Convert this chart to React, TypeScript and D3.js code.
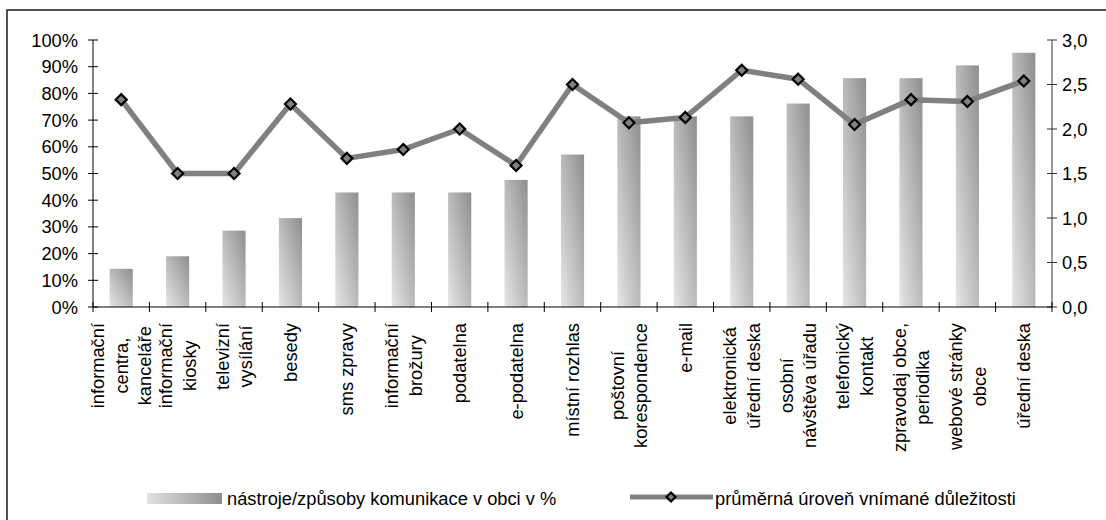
import * as d3 from "d3";

const categories: string[][] = [
  ["informační", "centra,", "kanceláře"],
  ["informační", "kiosky"],
  ["televizní", "vysílání"],
  ["besedy"],
  ["sms zpravy"],
  ["informační", "brožury"],
  ["podatelna"],
  ["e-podatelna"],
  ["místní rozhlas"],
  ["poštovní", "korespondence"],
  ["e-mail"],
  ["elektronická", "úřední deska"],
  ["osobní", "návštěva úřadu"],
  ["telefonický", "kontakt"],
  ["zpravodaj obce,", "periodika"],
  ["webové stránky", "obce"],
  ["úřední deska"],
];

// share of municipalities using the tool (0..1)
const usage = [
  0.143, 0.19, 0.286, 0.333, 0.429, 0.429, 0.429, 0.476, 0.571, 0.714, 0.714,
  0.714, 0.762, 0.857, 0.857, 0.905, 0.952,
];

// average perceived importance (0..3)
const importance = [
  2.33, 1.5, 1.5, 2.28, 1.67, 1.77, 2.0, 1.59, 2.5, 2.07, 2.13, 2.66, 2.56,
  2.05, 2.33, 2.31, 2.54,
];

const leftTicks = [0, 0.1, 0.2, 0.3, 0.4, 0.5, 0.6, 0.7, 0.8, 0.9, 1];
const rightTicks = [0, 0.5, 1, 1.5, 2, 2.5, 3];

const legendBars = "nástroje/způsoby komunikace v obci v %";
const legendLine = "průměrná úroveň vnímané důležitosti";

const FONT = "'Liberation Sans', Arial, sans-serif";
const FS = 18.3;

const W = 1106;
const H = 520;
const left = 93;
const right = 1052;
const top = 40;
const bottom = 307;

function measure(text: string) {
  const ctx = document.createElement("canvas").getContext("2d");
  if (!ctx) return text.length * FS * 0.5;
  ctx.font = `${FS}px ${FONT}`;
  return ctx.measureText(text).width;
}

export default function App() {
  const ids = categories.map((_, i) => String(i));
  const x = d3
    .scaleBand<string>()
    .domain(ids)
    .range([left, right])
    .paddingInner(0.59)
    .paddingOuter(0.295);
  const step = x.step();
  const yL = d3.scaleLinear().domain([0, 1]).range([bottom, top]);
  const yR = d3.scaleLinear().domain([0, 3]).range([bottom, top]);
  const cx = (i: number) => (x(String(i)) ?? 0) + x.bandwidth() / 2;

  const line = d3
    .line<number>()
    .x((_, i) => cx(i))
    .y((d) => yR(d));

  const diamond = (px: number, py: number, r = 5.5) =>
    `M${px},${py - r}L${px + r},${py}L${px},${py + r}L${px - r},${py}Z`;

  const labelTop = 323;
  const lineGap = 23.5;

  return (
    <svg
      width={W}
      height={H}
      style={{ position: "absolute", left: 0, top: 0, background: "#fff" }}
      fontFamily={FONT}
      fontSize={FS}
    >
      <defs>
        <linearGradient id="barGrad" x1="0" y1="1" x2="1" y2="0">
          <stop offset="0%" stopColor="#e6e6e6" />
          <stop offset="100%" stopColor="#8e8e8e" />
        </linearGradient>
        <linearGradient id="legGrad" x1="0" y1="0" x2="1" y2="0">
          <stop offset="0%" stopColor="#e2e2e2" />
          <stop offset="100%" stopColor="#8e8e8e" />
        </linearGradient>
      </defs>

      <rect x={7} y={10} width={W + 20} height={H + 20} fill="#fff" stroke="#1a1a1a" strokeWidth={1.5} />

      {/* bars */}
      {usage.map((v, i) => (
        <rect
          key={i}
          x={x(String(i))}
          y={yL(v)}
          width={x.bandwidth()}
          height={bottom - yL(v)}
          fill="url(#barGrad)"
        />
      ))}

      {/* left axis */}
      <line x1={left} x2={left} y1={top} y2={bottom} stroke="#000" />
      {leftTicks.map((t) => (
        <g key={t}>
          <line x1={left - 5} x2={left + 5} y1={yL(t)} y2={yL(t)} stroke="#000" />
          <text x={78} y={yL(t)} textAnchor="end" dominantBaseline="central">
            {Math.round(t * 100)}%
          </text>
        </g>
      ))}

      {/* right axis */}
      <line x1={right} x2={right} y1={top} y2={bottom} stroke="#333" />
      {rightTicks.map((t) => (
        <g key={t}>
          <line x1={right - 5} x2={right + 5} y1={yR(t)} y2={yR(t)} stroke="#333" />
          <text x={1062} y={yR(t)} dominantBaseline="central">
            {t.toFixed(1).replace(".", ",")}
          </text>
        </g>
      ))}

      {/* x axis */}
      <line x1={left} x2={right} y1={bottom} y2={bottom} stroke="#000" />
      {d3.range(categories.length + 1).map((i) => (
        <line
          key={i}
          x1={left + i * step}
          x2={left + i * step}
          y1={bottom - 5}
          y2={bottom + 5}
          stroke="#000"
        />
      ))}

      {/* category labels */}
      {categories.map((lines, i) => {
        const maxLen = d3.max(lines, (l) => measure(l)) ?? 0;
        const cy = labelTop + maxLen / 2;
        return lines.map((l, j) => {
          const lx = cx(i) + (j - (lines.length - 1) / 2) * lineGap;
          return (
            <text
              key={`${i}-${j}`}
              transform={`translate(${lx},${cy}) rotate(-90)`}
              textAnchor="middle"
              dominantBaseline="central"
            >
              {l}
            </text>
          );
        });
      })}

      {/* importance line */}
      <path d={line(importance) ?? ""} fill="none" stroke="#808080" strokeWidth={5.5} strokeLinejoin="round" />
      {importance.map((v, i) => (
        <path key={i} d={diamond(cx(i), yR(v))} fill="#808080" stroke="#000" strokeWidth={2.2} />
      ))}

      {/* legend */}
      <rect x={147} y={493} width={75} height={11} fill="url(#legGrad)" />
      <text x={227} y={498} dominantBaseline="central">
        {legendBars}
      </text>
      <line x1={630} x2={713} y1={497} y2={497} stroke="#808080" strokeWidth={5} />
      <path d={diamond(671, 497, 4.5)} fill="#808080" stroke="#000" strokeWidth={2.2} />
      <text x={715} y={498} dominantBaseline="central">
        {legendLine}
      </text>
    </svg>
  );
}
